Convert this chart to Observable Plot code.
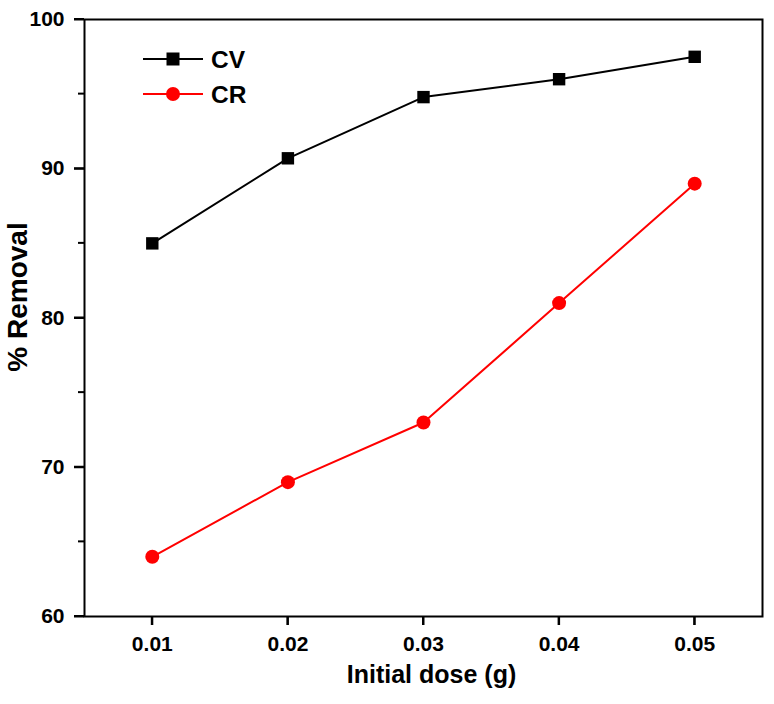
<!DOCTYPE html>
<html>
<head>
<meta charset="utf-8">
<script src="https://cdn.jsdelivr.net/npm/d3@7"></script>
<script src="https://cdn.jsdelivr.net/npm/@observablehq/plot@0.6"></script>
<style>
  body { margin: 0; background: #fff; }
  #wrap { position: relative; width: 774px; height: 704px; }
  #wrap > svg { font-family: "Liberation Sans", Arial, sans-serif; font-weight: bold; }
  #legend { position: absolute; left: 0; top: 0; pointer-events: none; }
  #wrap svg g[aria-label="x-axis tick label"],
  #wrap svg g[aria-label="y-axis tick label"] { font-size: 21px; font-weight: bold; }
</style>
</head>
<body>
<div id="wrap"></div>
<script>
const doses = [0.01, 0.02, 0.03, 0.04, 0.05];
const cvRemoval = [85.0, 90.7, 94.8, 96.0, 97.5];
const crRemoval = [64.0, 69.0, 73.0, 81.0, 89.0];
const yTicks = [60, 70, 80, 90, 100];
const yMinorTicks = [65, 75, 85, 95];
const seriesNames = ["CV", "CR"];
const seriesColors = ["#000000", "#ff0000"];

const cv = doses.map((d, i) => ({dose: d, value: cvRemoval[i]}));
const cr = doses.map((d, i) => ({dose: d, value: crRemoval[i]}));

const font = "Liberation Sans, Arial, sans-serif";

const chart = Plot.plot({
  width: 774,
  height: 704,
  marginLeft: 84,
  marginRight: 12,
  marginTop: 19,
  marginBottom: 88,
  x: {domain: [0.005, 0.055]},
  y: {domain: [60, 100]},
  marks: [
    Plot.frame({stroke: "#000", strokeWidth: 2}),
    Plot.axisX(doses, {tickSize: 9, tickPadding: 11, tickFormat: d3.format(".2f"), strokeWidth: 2, label: null}),
    Plot.axisY(yTicks, {tickSize: 10, tickPadding: 10, strokeWidth: 2, label: null}),
    Plot.line(cv, {x: "dose", y: "value", stroke: seriesColors[0], strokeWidth: 2}),
    Plot.dot(cv, {x: "dose", y: "value", symbol: "square", r: 7, fill: seriesColors[0], stroke: "none"}),
    Plot.line(cr, {x: "dose", y: "value", stroke: seriesColors[1], strokeWidth: 2}),
    Plot.dot(cr, {x: "dose", y: "value", symbol: "circle", r: 7, fill: seriesColors[1], stroke: "none"}),
    Plot.text(["Initial dose (g)"], {frameAnchor: "bottom", dy: 66, dx: 8, text: d => d, fontSize: 25, fontWeight: "bold", fill: "#000"}),
    Plot.text(["% Removal"], {frameAnchor: "left", textAnchor: "middle", dx: -66, dy: -21, rotate: -90, text: d => d, fontSize: 28, fontWeight: "bold", fill: "#000"})
  ]
});

const wrap = document.getElementById("wrap");
wrap.appendChild(chart);

const ns = "http://www.w3.org/2000/svg";

// Tick marks placed through the plot's own scales
const sx = chart.scale("x"), sy = chart.scale("y");
const x0 = sx.apply(sx.domain[0]);
const yBottom = sy.apply(sy.domain[0]);
const tickG = document.createElementNS(ns, "g");
function addLine(x1, y1, x2, y2) {
  const l = document.createElementNS(ns, "line");
  l.setAttribute("x1", x1); l.setAttribute("y1", y1);
  l.setAttribute("x2", x2); l.setAttribute("y2", y2);
  l.setAttribute("stroke", "#000"); l.setAttribute("stroke-width", 2);
  tickG.appendChild(l);
}
doses.forEach(d => { const px = sx.apply(d); addLine(px, yBottom, px, yBottom + 9); });
yTicks.forEach(v => { const py = sy.apply(v); addLine(x0, py, x0 - 10, py); });
yMinorTicks.forEach(v => { const py = sy.apply(v); addLine(x0, py, x0 - 6, py); });
chart.appendChild(tickG);

// Legend overlay
const leg = document.createElementNS(ns, "svg");
leg.setAttribute("id", "legend");
leg.setAttribute("width", 300);
leg.setAttribute("height", 130);
const rows = [59, 94];
seriesNames.forEach((name, i) => {
  const y = rows[i];
  const line = document.createElementNS(ns, "line");
  line.setAttribute("x1", 143); line.setAttribute("x2", 203);
  line.setAttribute("y1", y); line.setAttribute("y2", y);
  line.setAttribute("stroke", seriesColors[i]); line.setAttribute("stroke-width", 2);
  leg.appendChild(line);
  if (i === 0) {
    const r = document.createElementNS(ns, "rect");
    r.setAttribute("x", 166.5); r.setAttribute("y", y - 6.5);
    r.setAttribute("width", 13); r.setAttribute("height", 13);
    r.setAttribute("fill", seriesColors[i]);
    leg.appendChild(r);
  } else {
    const c = document.createElementNS(ns, "circle");
    c.setAttribute("cx", 173); c.setAttribute("cy", y); c.setAttribute("r", 7);
    c.setAttribute("fill", seriesColors[i]);
    leg.appendChild(c);
  }
  const t = document.createElementNS(ns, "text");
  t.setAttribute("x", 211); t.setAttribute("y", y);
  t.setAttribute("dy", "0.35em");
  t.setAttribute("font-family", font);
  t.setAttribute("font-size", 24.5);
  t.setAttribute("font-weight", "bold");
  t.setAttribute("fill", "#000");
  t.textContent = name;
  leg.appendChild(t);
});
wrap.appendChild(leg);
</script>
</body>
</html>
